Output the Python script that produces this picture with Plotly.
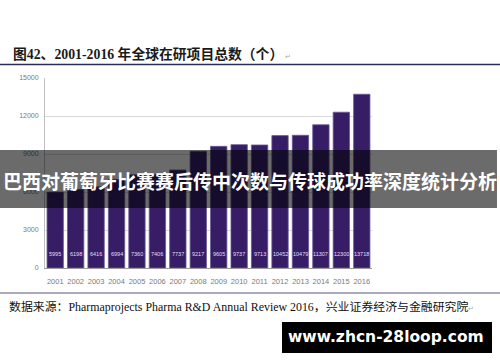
import plotly.graph_objects as go

years = ["2001", "2002", "2003", "2004", "2005", "2006", "2007", "2008",
         "2009", "2010", "2011", "2012", "2013", "2014", "2015", "2016"]
projects = [5995, 6198, 6416, 6994, 7360, 7406, 7737, 9217,
            9605, 9737, 9713, 10452, 10479, 11307, 12300, 13718]
y_ticks = [0, 3000, 6000, 9000, 12000, 15000]

title_text = "图42、2001-2016 年全球在研项目总数（个）"
source_text = "数据来源：Pharmaprojects Pharma R&D Annual Review 2016，兴业证券经济与金融研究院"
banner_text = "巴西对葡萄牙比赛赛后传中次数与传球成功率深度统计分析"
watermark_text = "www.zhcn-28loop.com"

W, H = 500, 362
L, R, T, B = 45, 372, 78, 268  # plot area in pixels


def px(x):
    return (x - L) / (R - L)


def py(y):
    return (B - y) / (B - T)


idx = list(range(len(years)))

fig = go.Figure()
fig.add_trace(go.Bar(
    x=idx, y=projects,
    marker=dict(color="#361d66", line=dict(color="#6a5a96", width=0.8)),
    customdata=years, hovertemplate="%{customdata}: %{y}<extra></extra>",
))

annotations = []
for i, v in zip(idx, projects):
    annotations.append(dict(
        x=i, y=1100, xref="x", yref="y", text=str(v), showarrow=False,
        font=dict(size=5.5, color="#e6def5", family="Liberation Sans, Arial"),
    ))

serif = "Liberation Serif, Noto Sans CJK SC, serif"
annotations.append(dict(
    x=px(11), y=py(54), xref="paper", yref="paper", xanchor="left", yanchor="middle",
    text="<b>" + title_text + "</b><span style='font-size:7px;color:#aaaaaa'> ↵</span>",
    showarrow=False, font=dict(size=13.8, color="#1a1a1a", family=serif),
))
annotations.append(dict(
    x=px(7), y=py(307), xref="paper", yref="paper", xanchor="left", yanchor="middle",
    text=source_text + "<span style='font-size:7px;color:#aaaaaa'>↵</span>",
    showarrow=False, font=dict(size=11.9, color="#111111", family=serif),
))
annotations.append(dict(
    x=px(250), y=py(180), xref="paper", yref="paper", xanchor="center", yanchor="middle",
    text="<b>" + banner_text + "</b>", showarrow=False,
    font=dict(size=19, color="#ffffff", family="Noto Sans CJK SC"),
))
annotations.append(dict(
    x=px(386), y=py(337), xref="paper", yref="paper", xanchor="center", yanchor="middle",
    text="<b>" + watermark_text + "</b>", showarrow=False,
    font=dict(size=15.5, color="#ffffff", family="DejaVu Sans"),
))

shapes = [
    dict(type="line", xref="paper", yref="paper", x0=px(0), x1=px(500), y0=py(64.5), y1=py(64.5),
         line=dict(color="#2b2b5c", width=1.5), layer="above"),
    dict(type="line", xref="paper", yref="paper", x0=px(0), x1=px(500), y0=py(293), y1=py(293),
         line=dict(color="#55558a", width=1.2), layer="above"),
    dict(type="rect", xref="paper", yref="paper", x0=px(0), x1=px(497), y0=py(150), y1=py(208),
         fillcolor="rgba(0,0,0,0.58)", line=dict(width=0), layer="above"),
    dict(type="rect", xref="paper", yref="paper", x0=px(282), x1=px(492), y0=py(322), y1=py(353),
         fillcolor="#000000", line=dict(width=0), layer="above"),
]

fig.update_layout(
    width=W, height=H,
    margin=dict(l=L, r=W - R, t=T, b=H - B, pad=0),
    paper_bgcolor="#ffffff", plot_bgcolor="#ffffff",
    showlegend=False, bargap=0.2,
    annotations=annotations, shapes=shapes,
    xaxis=dict(
        range=[-0.5, len(years) - 0.5], tickvals=idx, ticktext=years,
        showgrid=False, showline=True, linecolor="#9a9a9a", linewidth=1, zeroline=False,
        ticks="", tickfont=dict(size=7.5, color="#7a7a7a", family="Liberation Sans, Arial"),
        ticklabelstandoff=6, fixedrange=True,
    ),
    yaxis=dict(
        range=[0, 15000], tickvals=y_ticks, ticktext=[str(t) for t in y_ticks],
        showgrid=True, gridcolor="#d9d9d9", gridwidth=1, zeroline=False,
        showline=True, linecolor="#bfbfbf", linewidth=1, ticks="",
        tickfont=dict(size=7, color="#7a7a7a", family="Liberation Sans, Arial"),
        ticklabelstandoff=4, fixedrange=True,
    ),
)

fig.write_html(
    "out.html",
    config={"displayModeBar": False},
    post_script="document.body.style.margin='0';document.body.style.overflow='hidden';",
)
